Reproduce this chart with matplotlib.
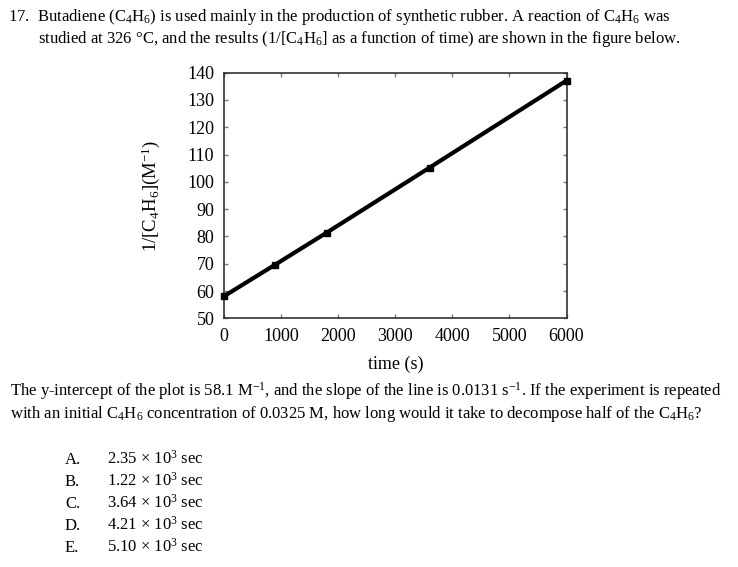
import matplotlib
matplotlib.use("Agg")
import matplotlib.pyplot as plt

# data
time_s = [0, 900, 1800, 3600, 6000]
inv_conc = [58.1, 69.7, 81.4, 105.2, 137.1]

x_ticks = [0, 1000, 2000, 3000, 4000, 5000, 6000]
y_ticks = [50, 60, 70, 80, 90, 100, 110, 120, 130, 140]

choice_letters = ["A.", "B.", "C.", "D.", "E."]
choice_values = ["2.35", "1.22", "3.64", "4.21", "5.10"]

plt.rcParams["font.family"] = ["Liberation Serif", "DejaVu Serif"]
plt.rcParams["mathtext.fontset"] = "custom"
plt.rcParams["mathtext.rm"] = "Liberation Serif"
plt.rcParams["mathtext.it"] = "Liberation Serif:italic"
plt.rcParams["mathtext.bf"] = "Liberation Serif:bold"

W, H = 738, 567
fig = plt.figure(figsize=(W / 100, H / 100), dpi=100)


def put(x, y, s, size=12, **kw):
  # x, y in pixels from top-left, y is baseline
  fig.text(x / W, 1 - y / H, s, fontsize=size, va="baseline", **kw)


put(8, 21, "17.  Butadiene (C$_4$H$_6$) is used mainly in the production of synthetic rubber. A reaction of C$_4$H$_6$ was")
put(38, 43, "studied at 326 °C, and the results (1/[C$_4$H$_6$] as a function of time) are shown in the figure below.")

ax = fig.add_axes([224 / W, 1 - 318.3 / H, (566.5 - 224) / W, (318.3 - 72.7) / H])
ax.plot(time_s, inv_conc, color="black", lw=3, marker="s", ms=5, clip_on=False, zorder=3)
ax.set_xlim(0, 6000)
ax.set_ylim(50, 140)
ax.set_xticks(x_ticks)
ax.set_yticks(y_ticks)
ax.tick_params(direction="in", length=3, width=1, colors="#777777", labelcolor="black",
               labelsize=13, top=True, right=True, pad=7)
for sp in ax.spines.values():
  sp.set_color("#333333")
  sp.set_linewidth(1.2)
ax.set_xlabel("time (s)", fontsize=13, labelpad=8)
ax.set_ylabel("1/[C$_4$H$_6$](M$^{-1}$)", fontsize=13.5, labelpad=18)

put(10, 396, "The y-intercept of the plot is 58.1 M$^{-1}$, and the slope of the line is 0.0131 s$^{-1}$. If the experiment is repeated")
put(10, 418, "with an initial C$_4$H$_6$ concentration of 0.0325 M, how long would it take to decompose half of the C$_4$H$_6$?")

for i in range(len(choice_letters)):
  y = 464 + i * 22
  put(65, y, choice_letters[i])
  put(107, y, choice_values[i] + " × 10$^3$ sec")

fig.savefig("out.png", dpi=100)
